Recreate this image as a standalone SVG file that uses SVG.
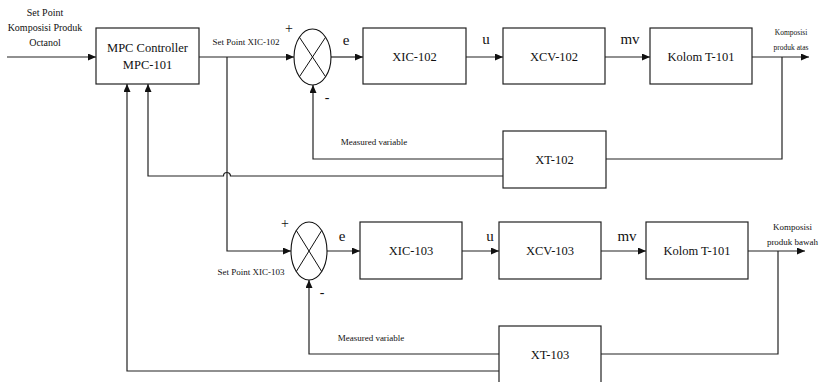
<svg xmlns="http://www.w3.org/2000/svg" width="826" height="382" viewBox="0 0 826 382">
<style>
text{font-family:"Liberation Serif","Times New Roman",serif;fill:#111;text-anchor:middle}
.box{fill:#fff;stroke:#222;stroke-width:1.2}
.sum{fill:#fff;stroke:#111;stroke-width:1.1}
.x{stroke:#111;stroke-width:1}
.w{fill:none;stroke:#222;stroke-width:1.2}
.a{marker-end:url(#ah)}
.lbl{font-size:12.5px}
.sm{font-size:9px}
.sig{font-size:15px}
.pm{font-size:14px}
</style>
<defs>
<marker id="ah" markerUnits="userSpaceOnUse" markerWidth="8" markerHeight="7" refX="8" refY="3.5" orient="auto">
<path d="M0,0 L8,3.5 L0,7 z" fill="#111"/>
</marker>
</defs>
<rect width="826" height="382" fill="#fff"/>
<g id="connectors">
<path class="w a" d="M7,57 H96"/>
<path class="w a" d="M199,57 H294"/>
<path class="w a" d="M331,57 H363"/>
<path class="w a" d="M466,57 H503"/>
<path class="w a" d="M605,57 H650"/>
<path class="w a" d="M752,57 H809"/>
<path class="w" d="M782,57 V159 H606"/>
<path class="w a" d="M503,159 H313 V85"/>
<path class="w a" d="M503,176 H230.5 A3.5,3.5 0 0 0 223.5,176 H148 V84"/>
<path class="w a" d="M227,57 V251 H291"/>
<path class="w a" d="M327,251 H360"/>
<path class="w a" d="M462,251 H499"/>
<path class="w a" d="M601,251 H646"/>
<path class="w a" d="M748,251 H805"/>
<path class="w" d="M778,251 V354 H601"/>
<path class="w a" d="M499,354 H309 V280"/>
<path class="w a" d="M499,371 H127 V84"/>
</g>
<g id="input-label">
<text x="45" y="16" font-size="10">Set Point</text>
<text x="45" y="31" font-size="10">Komposisi Produk</text>
<text x="45" y="46" font-size="10">Octanol</text>
</g>
<g id="mpc">
<rect class="box" x="96" y="28" width="103" height="56"/>
<text class="lbl" x="147.5" y="52">MPC Controller</text>
<text class="lbl" x="147.5" y="69">MPC-101</text>
</g>
<g id="sum1">
<ellipse class="sum" cx="312.5" cy="57" rx="18.5" ry="28"/>
<path class="x" d="M299.4,37.2 L325.6,76.8 M325.6,37.2 L299.4,76.8"/>
<text class="pm" x="289" y="33">+</text>
<text class="pm" x="327" y="102">-</text>
</g>
<g id="xic102">
<rect class="box" x="363" y="28" width="103" height="56"/>
<text class="lbl" x="414.5" y="61">XIC-102</text>
</g>
<g id="xcv102">
<rect class="box" x="503" y="28" width="102" height="56"/>
<text class="lbl" x="554" y="61">XCV-102</text>
</g>
<g id="kolom1">
<rect class="box" x="650" y="28" width="102" height="56"/>
<text class="lbl" x="701" y="61">Kolom T-101</text>
</g>
<g id="xt102">
<rect class="box" x="503" y="131" width="103" height="57"/>
<text class="lbl" x="554.5" y="164">XT-102</text>
</g>
<g id="sum2">
<ellipse class="sum" cx="309" cy="251" rx="18" ry="29"/>
<path class="x" d="M296.3,230.5 L321.7,271.5 M321.7,230.5 L296.3,271.5"/>
<text class="pm" x="285" y="228">+</text>
<text class="pm" x="322" y="297">-</text>
</g>
<g id="xic103">
<rect class="box" x="360" y="222" width="102" height="57"/>
<text class="lbl" x="411" y="255">XIC-103</text>
</g>
<g id="xcv103">
<rect class="box" x="499" y="222" width="102" height="57"/>
<text class="lbl" x="550" y="255">XCV-103</text>
</g>
<g id="kolom2">
<rect class="box" x="646" y="222" width="102" height="57"/>
<text class="lbl" x="697" y="255">Kolom T-101</text>
</g>
<g id="xt103">
<rect class="box" x="499" y="326" width="102" height="58"/>
<text class="lbl" x="550" y="359">XT-103</text>
</g>
<g id="labels">
<text class="sm" x="246" y="45">Set Point XIC-102</text>
<text class="sm" x="251" y="275">Set Point XIC-103</text>
<text class="sm" x="374" y="145">Measured variable</text>
<text class="sm" x="371" y="341">Measured variable</text>
<text class="sig" x="346" y="45">e</text>
<text class="sig" x="486" y="44">u</text>
<text class="sig" x="630" y="44">mv</text>
<text class="sig" x="342" y="241">e</text>
<text class="sig" x="490" y="241">u</text>
<text class="sig" x="627" y="241">mv</text>
<text x="791" y="35" font-size="7.5">Komposisi</text>
<text x="791" y="50" font-size="7.5">produk atas</text>
<text x="792.5" y="230" font-size="9">Komposisi</text>
<text x="792.5" y="245" font-size="9">produk bawah</text>
</g>
</svg>
